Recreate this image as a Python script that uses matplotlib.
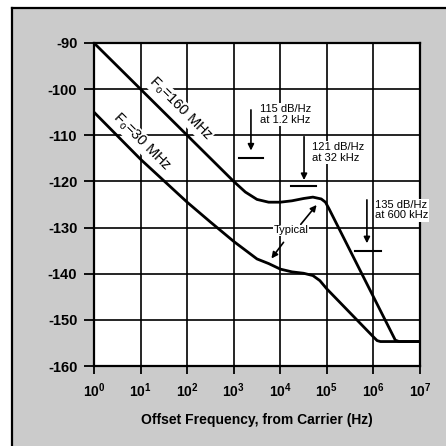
import matplotlib
matplotlib.use("Agg")
import matplotlib.pyplot as plt
from matplotlib.patches import Rectangle
from matplotlib.lines import Line2D
import matplotlib.ticker as mticker

plt.rcParams['font.family'] = ['Liberation Sans', 'DejaVu Sans']
plt.rcParams['mathtext.fontset'] = 'custom'
plt.rcParams['mathtext.rm'] = 'Liberation Sans'
plt.rcParams['mathtext.bf'] = 'Liberation Sans:bold'
plt.rcParams['mathtext.it'] = 'Liberation Sans:italic'

# ---- data ----
f160_log = [0, 1, 2, 3, 3.25, 3.5, 3.75, 4.0, 4.25, 4.5, 4.7, 4.88, 4.97, 5.05, 6.47, 6.55, 7]
db160 = [-90, -100, -110, -120, -122.3, -123.9, -124.5, -124.5, -124.2, -123.7, -123.4, -123.8, -124.5, -126, -154.4, -154.7, -154.7]

f30_log = [0, 1, 2, 2.5, 3, 3.5, 3.75, 4.0, 4.25, 4.5, 4.7, 4.85, 5.0, 6.0, 6.08, 6.15, 7]
db30 = [-105, -115.2, -124.5, -128.8, -133, -136.8, -137.8, -139, -139.6, -139.9, -140.4, -141.5, -143.3, -153.7, -154.5, -154.7, -154.7]

xticks_log = [0, 1, 2, 3, 4, 5, 6, 7]
yticks = [-90, -100, -110, -120, -130, -140, -150, -160]

# spec markers: (arrow x log, arrow top dB, arrow tip dB, bar level dB, bar x from log, bar x to log, text x log, text y dB, text)
specs = [
    (3.37, -104.5, -113.3, -115, 3.11, 3.63, 3.56, -105.5, "115 dB/Hz\nat 1.2 kHz"),
    (4.51, -110.3, -119.7, -121, 4.24, 4.76, 4.69, -113.7, "121 dB/Hz\nat 32 kHz"),
    (5.86, -124.0, -133.4, -135, 5.60, 6.16, 6.03, -126.2, "135 dB/Hz\nat 600 kHz"),
]

W = H = 446
fig = plt.figure(figsize=(W / 100, H / 100), dpi=100, facecolor='white')

# grey halftone-like background panel with border on left/top
fig.patches.append(Rectangle((12 / W, 0), 1 - 12 / W, 1 - 8 / H, transform=fig.transFigure,
                             facecolor='#cbcbcb', edgecolor='none', zorder=-10))
fig.lines.append(Line2D([12 / W, 12 / W], [0, 1 - 8 / H], transform=fig.transFigure, color='black',
                        lw=1.6, zorder=-5))
fig.lines.append(Line2D([12 / W, 1], [1 - 8 / H, 1 - 8 / H], transform=fig.transFigure, color='black',
                        lw=1.6, zorder=-5))

ax = fig.add_axes([94 / W, 1 - 366 / H, (420 - 94) / W, (366 - 43) / H])
ax.set_zorder(1)
ax.set_facecolor('white')
ax.set_xscale('log')
ax.set_xlim(1, 1e7)
ax.set_ylim(-160, -90)

ax.set_xticks([10 ** v for v in xticks_log])
ax.xaxis.set_minor_locator(mticker.NullLocator())
ax.set_xticklabels([r'$\mathbf{10^{%d}}$' % v for v in xticks_log])
ax.set_yticks(yticks)
ax.set_yticklabels([str(v) for v in yticks], fontweight='bold')

ax.tick_params(axis='both', color='black', width=1.3)
ax.tick_params(axis='y', length=7, pad=5, direction='out', labelsize=10.5)
ax.tick_params(axis='x', length=6, pad=5, direction='out', labelsize=10)
ax.grid(True, color='black', lw=1.2)
ax.set_axisbelow(True)
for s in ax.spines.values():
    s.set_linewidth(1.6)

ax.plot([10 ** v for v in f160_log], db160, color='black', lw=2.0, solid_capstyle='round')
ax.plot([10 ** v for v in f30_log], db30, color='black', lw=2.0, solid_capstyle='round')

wb = dict(facecolor='white', edgecolor='none', pad=0.6)
ax.text(10 ** 1.85, -104.2, r'F$_{\mathrm{o}}$=160 MHz', rotation=-45, ha='center', va='center',
        fontsize=10.5, rotation_mode='anchor', bbox=wb, zorder=4)
ax.text(10 ** 1.02, -111.5, r'F$_{\mathrm{o}}$=30 MHz', rotation=-45, ha='center', va='center',
        fontsize=10.5, rotation_mode='anchor', bbox=wb, zorder=4)

for axl, top, tip, lvl, b0, b1, tx, ty, txt in specs:
    ax.annotate('', xy=(10 ** axl, tip), xytext=(10 ** axl, top),
                arrowprops=dict(arrowstyle='-|>', color='black', lw=1.2, mutation_scale=9,
                                shrinkA=0, shrinkB=0))
    ax.plot([10 ** b0, 10 ** b1], [lvl, lvl], color='black', lw=1.5)
    ax.text(10 ** tx, ty, txt, ha='left', va='center', fontsize=8, linespacing=1.1,
            clip_on=False, zorder=5, bbox=dict(facecolor='white', edgecolor='none', pad=0.8))

ax.text(10 ** 4.235, -130.6, 'Typical', ha='center', va='center', fontsize=8, zorder=5,
        bbox=dict(facecolor='white', edgecolor='none', pad=0.5))
ax.annotate('', xy=(10 ** 4.78, -125.1), xytext=(10 ** 4.44, -129.3),
            arrowprops=dict(arrowstyle='-|>', color='black', lw=1.2, mutation_scale=9, shrinkA=0, shrinkB=0))
ax.annotate('', xy=(10 ** 3.81, -136.7), xytext=(10 ** 4.07, -133.2),
            arrowprops=dict(arrowstyle='-|>', color='black', lw=1.2, mutation_scale=9, shrinkA=0, shrinkB=0))

fig.text(257 / W, 1 - 420 / H, 'Offset Frequency, from Carrier (Hz)', ha='center', va='center',
         fontsize=10, fontweight='bold')

fig.savefig('out.png', dpi=100, facecolor=fig.get_facecolor())
